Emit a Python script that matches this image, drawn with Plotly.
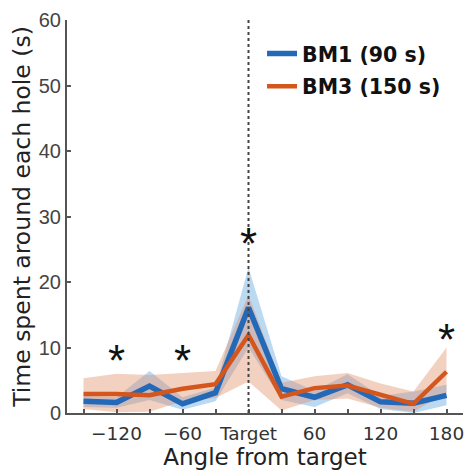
import plotly.graph_objects as go

# Angle of each hole relative to the target (degrees)
angles = [-150, -120, -90, -60, -30, 0, 30, 60, 90, 120, 150, 180]

# BM1 (90 s): mean time and shaded error band
bm1_mean = [1.8, 1.6, 4.1, 1.4, 3.1, 16.1, 3.7, 2.4, 4.3, 1.7, 1.5, 2.7]
bm1_upper = [2.6, 2.4, 6.4, 2.4, 3.9, 22.2, 5.6, 3.4, 5.9, 2.6, 3.3, 4.3]
bm1_lower = [0.9, 0.8, 2.0, 0.5, 1.8, 10.0, 2.0, 0.9, 3.0, 0.6, 0.0, 1.2]

# BM3 (150 s): mean time and shaded error band
bm3_mean = [2.9, 2.9, 2.7, 3.7, 4.4, 11.9, 2.5, 3.8, 4.2, 2.8, 1.4, 6.3]
bm3_upper = [5.3, 6.0, 5.8, 6.1, 6.4, 18.0, 4.6, 5.6, 6.1, 4.5, 3.3, 10.0]
bm3_lower = [0.6, 0.1, 0.2, 1.8, 2.3, 4.8, 0.4, 2.0, 2.2, 0.8, 0.2, 3.1]

# Significance markers
sig_x = [-120, -60, 0, 180]
sig_y = [8.9, 8.9, 26.8, 12.2]

tick_vals = angles
tick_text = ["", "\u2212120", "", "\u221260", "", "Target", "", "60", "", "120", "", "180"]

BLUE = "#2468b8"
ORANGE = "#d4561d"
BLUE_BAND = "rgba(95,165,225,0.42)"
ORANGE_BAND = "rgba(225,140,100,0.40)"

fig = go.Figure()


def add_band(upper, lower, color):
    fig.add_trace(go.Scatter(
        x=angles + angles[::-1], y=upper + lower[::-1],
        fill="toself", fillcolor=color, line=dict(width=0),
        mode="lines", hoverinfo="skip", showlegend=False,
    ))


add_band(bm1_upper, bm1_lower, BLUE_BAND)
add_band(bm3_upper, bm3_lower, ORANGE_BAND)

fig.add_trace(go.Scatter(x=angles, y=bm1_mean, mode="lines",
                         line=dict(color=BLUE, width=5.5), name="BM1 (90 s)",
                         legendgroup="a"))
fig.add_trace(go.Scatter(x=angles, y=bm3_mean, mode="lines",
                         line=dict(color=ORANGE, width=4.5), name="BM3 (150 s)",
                         legendgroup="b"))

# Asterisks: glyph centre sits above the text box centre, so shift down
for sx, sy in zip(sig_x, sig_y):
    fig.add_annotation(x=sx, y=sy, xref="x", yref="y", text="*", showarrow=False,
                       yshift=-6,
                       font=dict(family="Liberation Sans", size=44, color="#111111"))

# Target direction
fig.add_shape(type="line", x0=0, x1=0, y0=0, y1=60, xref="x", yref="y",
              line=dict(color="#444444", width=2, dash="dot"), layer="above")

fig.update_layout(
    width=465, height=471,
    margin=dict(l=67, r=2, t=20, b=58),
    plot_bgcolor="white", paper_bgcolor="white",
    showlegend=True,
    legend=dict(x=0.4925, y=0.965, xanchor="left", yanchor="top",
                bgcolor="rgba(0,0,0,0)", tracegroupgap=3,
                font=dict(family="DejaVu Sans", size=20.5, color="#111111",
                          weight="bold")),
    xaxis=dict(
        range=[-165, 195], tickmode="array", tickvals=tick_vals, ticktext=tick_text,
        ticks="inside", ticklen=4, tickcolor="#555555", tickwidth=1.5,
        showline=True, linecolor="#555555", linewidth=2, showgrid=False, zeroline=False,
        ticklabelstandoff=3,
        tickfont=dict(family="DejaVu Sans", size=18.5, color="#333333"),
        title=dict(text="Angle from target", standoff=1,
                   font=dict(family="DejaVu Sans", size=23, color="#222222")),
    ),
    yaxis=dict(
        range=[0, 60], tickvals=[0, 10, 20, 30, 40, 50, 60],
        ticks="inside", ticklen=4, tickcolor="#555555", tickwidth=1.5,
        showline=True, linecolor="#555555", linewidth=2, showgrid=False, zeroline=False,
        tickfont=dict(family="Liberation Sans", size=20, color="#444444"),
        title=dict(text="Time spent around each hole (s)", standoff=2,
                   font=dict(family="DejaVu Sans", size=23.5, color="#222222")),
    ),
)

fig.write_html("out.html")
